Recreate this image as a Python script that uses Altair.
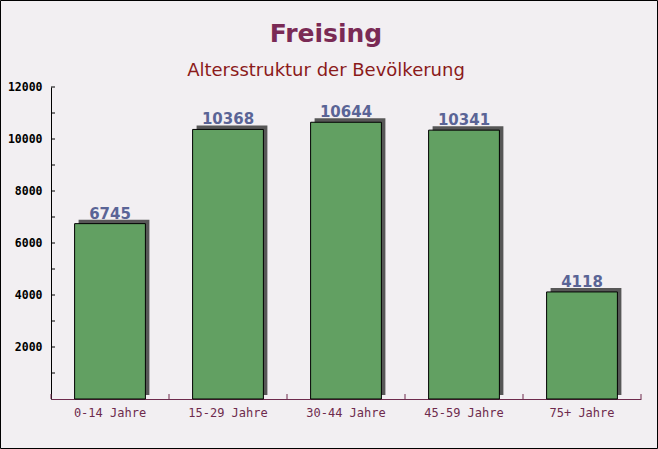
import altair as alt
import pandas as pd

categories = ["0-14 Jahre", "15-29 Jahre", "30-44 Jahre", "45-59 Jahre", "75+ Jahre"]
values = [6745, 10368, 10644, 10341, 4118]
major_ticks = [2000, 4000, 6000, 8000, 10000, 12000]
all_ticks = [1000, 2000, 3000, 4000, 5000, 6000, 7000, 8000, 9000, 10000, 11000, 12000]
band_edges = [0, 1, 2, 3, 4, 5]
title_text = ["Freising"]
subtitle_text = ["Altersstruktur der Bevölkerung"]

df = pd.DataFrame({"cat": categories, "val": values})
ytick_df = pd.DataFrame({"val": all_ticks})
xtick_df = pd.DataFrame({"e": band_edges})

W, H = 590, 312
maroon = "#6e2b4d"

xscale = alt.Scale(domain=categories, paddingInner=0.4, paddingOuter=0.2)
yscale = alt.Scale(domain=[0, 12000], nice=False)

x_bottom = alt.X("cat:N", scale=xscale, sort=categories, title=None,
                 axis=alt.Axis(orient="bottom", ticks=False, labelAngle=0,
                               labelFont="DejaVu Sans Mono", labelFontSize=12,
                               labelColor=maroon, labelPadding=8,
                               domainColor=maroon, domainWidth=1))
y_left = alt.Y("val:Q", scale=yscale, title=None,
               axis=alt.Axis(orient="left", values=major_ticks, ticks=False, format="d",
                             labelFont="DejaVu Sans Mono", labelFontWeight="bold",
                             labelFontSize=11.5, labelColor="black", labelPadding=9,
                             domainColor="black", grid=False))

base = alt.Chart(df)

shadow = base.mark_bar(color="#575757", xOffset=4, yOffset=-4).encode(x=x_bottom, y=y_left)
bars = base.mark_bar(color="#62a062", stroke="black", strokeWidth=1).encode(
    x=alt.X("cat:N", scale=xscale, sort=categories, title=None),
    y=alt.Y("val:Q", scale=yscale, title=None))
labels = base.mark_text(dy=-5, baseline="alphabetic", font="DejaVu Sans", fontWeight="bold",
                        fontSize=15, color="#5a6496").encode(
    x=alt.X("cat:N", scale=xscale, sort=categories, title=None),
    y=alt.Y("val:Q", scale=yscale, title=None), text="val:Q")

yticks = alt.Chart(ytick_df).mark_rule(color="black", strokeWidth=1).encode(
    y=alt.Y("val:Q", scale=yscale, title=None), x=alt.value(0), x2=alt.value(4))
xticks = alt.Chart(xtick_df).mark_rule(color=maroon, strokeWidth=1).encode(
    x=alt.X("e:Q", scale=alt.Scale(domain=[0, 5], nice=False, zero=False), axis=None),
    y=alt.value(H), y2=alt.value(H - 5))

title = alt.Chart(pd.DataFrame({"t": title_text})).mark_text(
    font="DejaVu Sans", fontWeight="bold", fontSize=25, color="#7a2a55",
    align="center", baseline="alphabetic").encode(
    x=alt.value(275), y=alt.value(-45), text="t:N")
subtitle = alt.Chart(pd.DataFrame({"t": subtitle_text})).mark_text(
    font="DejaVu Sans", fontSize=18, color="#8b1a1a",
    align="center", baseline="alphabetic").encode(
    x=alt.value(275), y=alt.value(-11), text="t:N")
border = alt.Chart(pd.DataFrame({"t": title_text})).mark_rect(
    filled=False, stroke="black", strokeWidth=1).encode(
    x=alt.value(-50.5), x2=alt.value(606.5), y=alt.value(-86.5), y2=alt.value(361.5))

main = alt.layer(shadow, bars, labels, yticks)

chart = alt.layer(main, xticks, title, subtitle, border).resolve_scale(
    x="independent"
).properties(
    width=W, height=H,
    autosize=alt.AutoSizeParams(type="none"),
    padding={"left": 51, "top": 87, "right": 17, "bottom": 50},
    background="#f2eff2",
).configure_view(stroke=None)

chart.save("out.html", embed_options={"renderer": "svg", "actions": False})
